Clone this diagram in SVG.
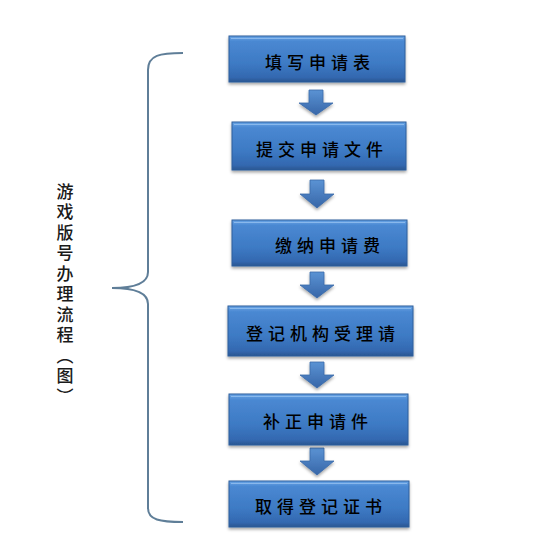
<svg xmlns="http://www.w3.org/2000/svg" width="534" height="541" viewBox="0 0 534 541">
<defs>
<linearGradient id="bx" x1="0" y1="0" x2="0" y2="1">
<stop offset="0" stop-color="#6aa5e6"/>
<stop offset="0.12" stop-color="#4a88d2"/>
<stop offset="0.6" stop-color="#3d7ac4"/>
<stop offset="0.9" stop-color="#3368b0"/>
<stop offset="1" stop-color="#2a5590"/>
</linearGradient>
<linearGradient id="ar" x1="0" y1="0" x2="0" y2="1">
<stop offset="0" stop-color="#5b93d4"/>
<stop offset="1" stop-color="#3766a8"/>
</linearGradient>
<filter id="sh" x="-10%" y="-20%" width="120%" height="150%">
<feDropShadow dx="0" dy="2" stdDeviation="1.5" flood-color="#000" flood-opacity="0.35"/>
</filter>
</defs>
<style>
.box{fill:url(#bx);stroke:#2f5f9c;stroke-width:1;filter:url(#sh)}
.hl{fill:none;stroke:#9cc6f2;stroke-width:1.2;opacity:0.7}
.lbl{font-family:"Noto Sans CJK SC","Noto Sans CJK JP",sans-serif;font-size:17px;font-weight:500;letter-spacing:5px;text-anchor:middle;dominant-baseline:central}
.arr{fill:url(#ar);stroke:#3a6aa8;stroke-width:0.8;filter:url(#sh)}
.brace{fill:none;stroke:#5f7e98;stroke-width:2}
.ttl{font-family:"Noto Sans CJK SC","Noto Sans CJK JP",sans-serif;font-size:17px;font-weight:500;fill:#1a1a1a;writing-mode:vertical-rl;letter-spacing:3.5px}
</style>
<rect width="534" height="541" fill="#ffffff"/>
<g id="connectors">
<path class="arr" d="M309,90 H323 V103 H333 L316,115 L299,103 H309 Z"/>
<path class="arr" d="M310,180 H324 V194 H334 L317,208 L300,194 H310 Z"/>
<path class="arr" d="M310,272 H324 V285 H334 L317,298 L300,285 H310 Z"/>
<path class="arr" d="M310,362 H324 V375 H334 L317,388 L300,375 H310 Z"/>
<path class="arr" d="M310,448 H324 V461 H334 L317,475 L300,461 H310 Z"/>
<path id="brace" class="brace" d="M183,53 C160,53 148,55 148,70 L148,272 C148,283 135,288 112,288 C135,288 148,293 148,304 L148,508 C148,520 160,522 183,522"/>
</g>
<g id="title">
<text class="ttl" x="65" y="183" fill="#1a1a1a">游戏版号办理流程（图）</text>
</g>
<g id="n1">
<rect class="box" x="229" y="36" width="176" height="46"/>
<path class="hl" d="M231,38.5 H403"/>
<text class="lbl" x="320" y="61" style="fill:#000000">填写申请表</text>
</g>
<g id="n2">
<rect class="box" x="232" y="122" width="174" height="48"/>
<path class="hl" d="M234,124.5 H404"/>
<text class="lbl" x="322" y="148" style="fill:#000000">提交申请文件</text>
</g>
<g id="n3">
<rect class="box" x="232" y="220" width="175" height="46"/>
<path class="hl" d="M234,222.5 H405"/>
<text class="lbl" x="330" y="244" style="fill:#000000">缴纳申请费</text>
</g>
<g id="n4">
<rect class="box" x="228" y="306" width="185" height="50"/>
<path class="hl" d="M230,308.5 H411"/>
<text class="lbl" x="323" y="332" style="fill:#000000">登记机构受理请</text>
</g>
<g id="n5">
<rect class="box" x="229" y="394" width="179" height="51"/>
<path class="hl" d="M231,396.5 H406"/>
<text class="lbl" x="318" y="420" style="fill:#000000">补正申请件</text>
</g>
<g id="n6">
<rect class="box" x="229" y="481" width="180" height="46"/>
<path class="hl" d="M231,483.5 H407"/>
<text class="lbl" x="321" y="505" style="fill:#000000">取得登记证书</text>
</g>
</svg>
